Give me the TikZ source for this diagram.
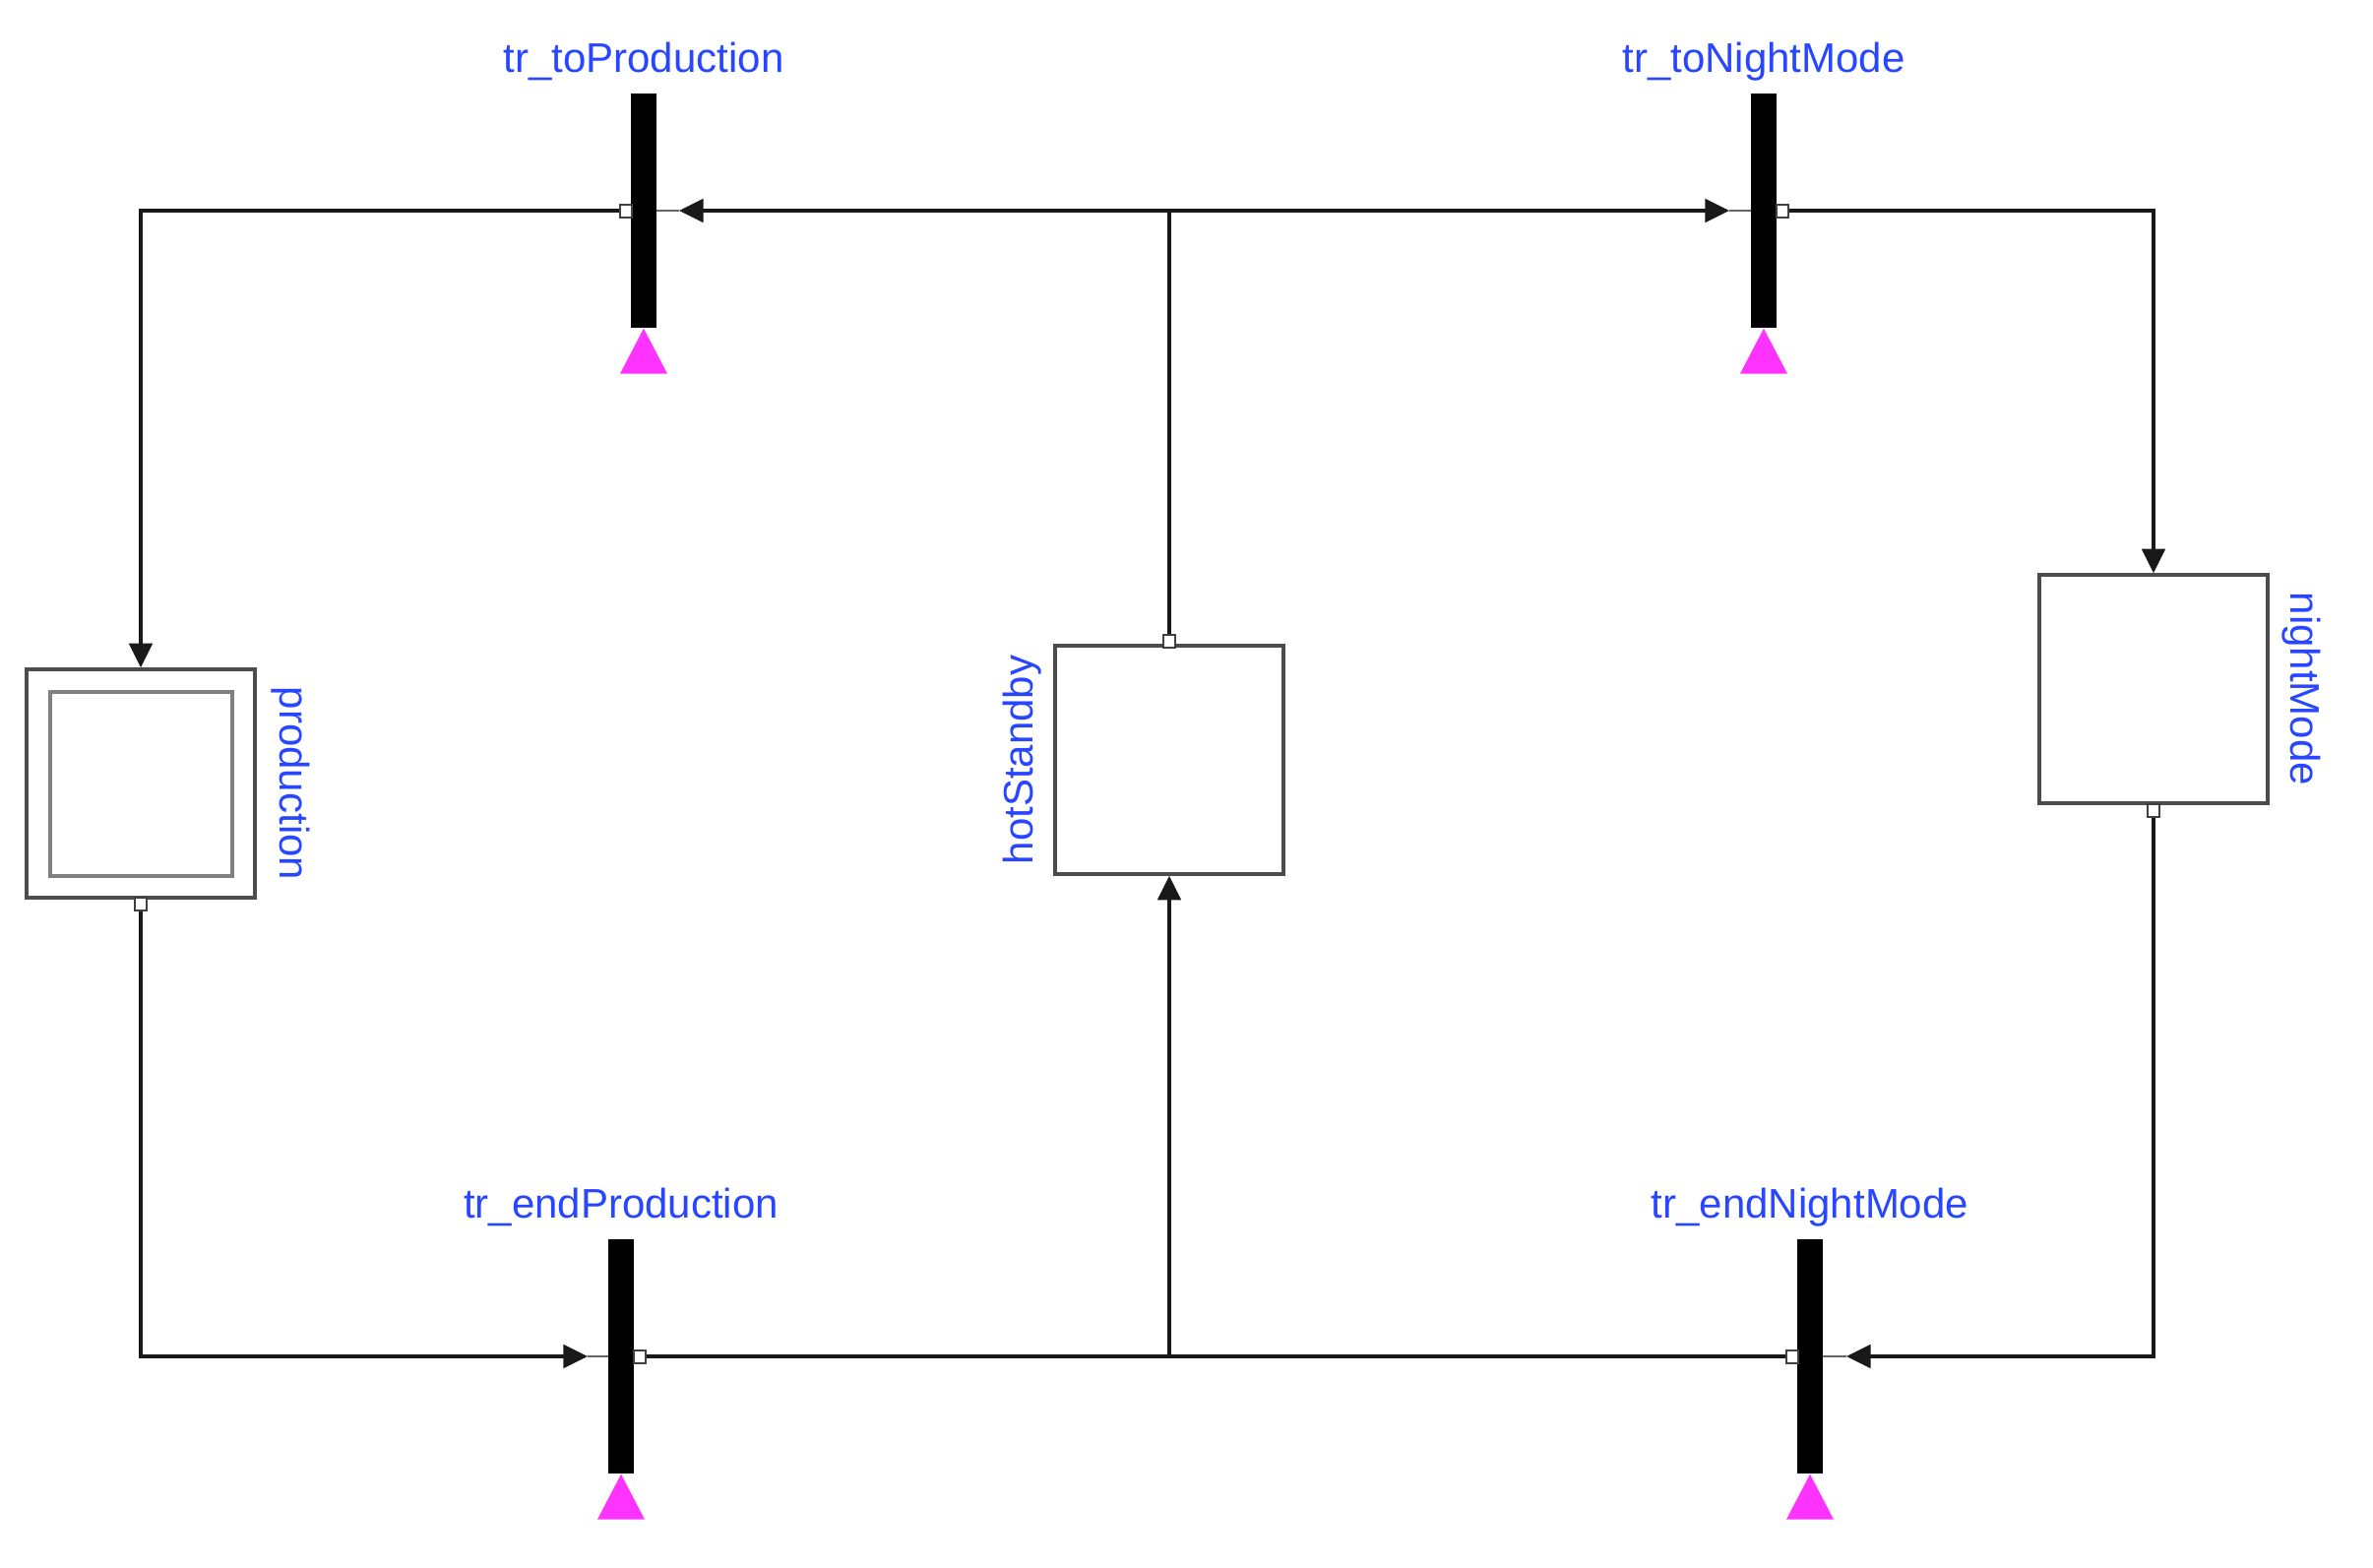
\documentclass[tikz,border=0pt]{standalone}
\usepackage{fontspec}
\setmainfont{Liberation Sans}
\usetikzlibrary{arrows.meta}
\definecolor{lblblue}{RGB}{40,70,255}
\definecolor{trmag}{RGB}{255,51,255}
\begin{document}
\begin{tikzpicture}[x=0.3pt,y=-0.3pt,
  conn/.style={line width=1.2pt, draw=black!90},
  tipped/.style={conn, -{Triangle[length=7.4pt,width=7pt]}},
  stub/.style={line width=0.6pt, draw=black!60},
  bar/.style={fill=black, draw=none, inner sep=0, minimum width=7.6pt, minimum height=71.4pt},
  stepbox/.style={draw=black!70, line width=1pt, fill=white, inner sep=0, minimum size=69.6pt},
  innerbox/.style={draw=black!50, line width=1.2pt, inner sep=0, minimum width=55.5pt, minimum height=56.1pt},
  port/.style={draw=black!75, fill=white, line width=0.6pt, inner sep=0, minimum width=3.6pt, minimum height=3.9pt},
  lbl/.style={text=lblblue, font=\fontsize{12.6pt}{15pt}\selectfont, inner sep=0},
  trig/.style={fill=trmag}
]
\useasboundingbox[fill=white] (0,0) rectangle (2411,1593);

% transitions
\node[bar] (trTP) at (654,214) {};
\node[bar] (trTN) at (1792,214) {};
\node[bar] (trEP) at (631,1378) {};
\node[bar] (trEN) at (1839,1378) {};
\foreach \t in {trTP,trTN,trEP,trEN}{
  \fill[trig] (\t.south) -- ++(24,46) -- ++(-48,0) -- cycle;
}
\node[lbl, anchor=base] (lTP) at (654,73) {tr\_toProduction};
\node[lbl, anchor=base] (lTN) at (1792,73) {tr\_toNightMode};
\node[lbl, anchor=base] (lEP) at (631,1237) {tr\_endProduction};
\node[lbl, anchor=base] (lEN) at (1839,1237) {tr\_endNightMode};

% steps
\node[stepbox] (prod) at (143,796) {};
\node[innerbox] (prodin) at (143,796) {};
\node[stepbox] (hs) at (1188,772) {};
\node[stepbox] (nm) at (2188,700) {};
\node[lbl, rotate=-90, anchor=base] (lprod) at (284,796) {production};
\node[lbl, rotate=90, anchor=base] (lhs) at (1049,772) {hotStandby};
\node[lbl, rotate=-90, anchor=base] (lnm) at (2327,700) {nightMode};

% ports
\node[port] (pTP) at (636,214) {};
\node[port] (pTN) at (1811,214) {};
\node[port] (pEP) at (650,1378) {};
\node[port] (pEN) at (1821,1378) {};
\node[port] (pProd) at (143,918) {};
\node[port] (pHS) at (1188,651) {};
\node[port] (pNM) at (2188,823) {};

% input points and junctions
\coordinate (inTP) at (690,214);
\coordinate (inTN) at (1757,214);
\coordinate (inEP) at (597,1378);
\coordinate (inEN) at (1876,1378);
\coordinate (J1) at (1188,214);
\coordinate (J2) at (1188,1378);

\draw[stub] (trTP.east) -- (inTP);
\draw[stub] (trTN.west) -- (inTN);
\draw[stub] (trEP.west) -- (inEP);
\draw[stub] (trEN.east) -- (inEN);

% connectors
\draw[conn] (pHS.north) -- (J1);
\draw[tipped] (J1) -- (inTP);
\draw[tipped] (J1) -- (inTN);
\draw[tipped] (pTP.west) -| (prod.north);
\draw[tipped] (pTN.east) -| (nm.north);
\draw[tipped] (pProd.south) |- (inEP);
\draw[conn] (pEP.east) -- (pEN.west);
\draw[tipped] (J2) -- (hs.south);
\draw[tipped] (pNM.south) |- (inEN);
\end{tikzpicture}
\end{document}
